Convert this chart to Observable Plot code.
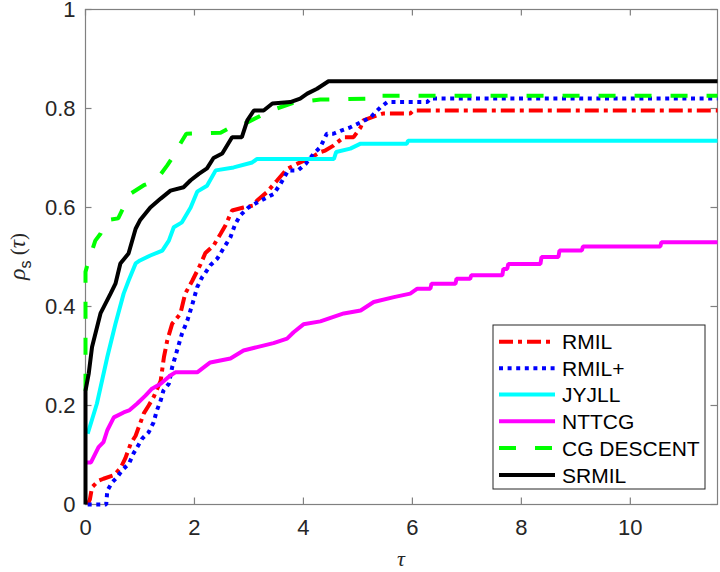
<!DOCTYPE html>
<html>
<head>
<meta charset="utf-8">
<script src="https://cdn.jsdelivr.net/npm/d3@7"></script>
<script src="https://cdn.jsdelivr.net/npm/@observablehq/plot@0.6"></script>
<style>
  html, body { margin: 0; padding: 0; background: #fff; }
  #chart { width: 720px; height: 572px; }
</style>
</head>
<body>
<div id="chart"></div>
<script>
// ---- Data ----
const seriesNames = ["RMIL", "RMIL+", "JYJLL", "NTTCG", "CG DESCENT", "SRMIL"];
const seriesColors = ["#ff0000", "#0000ff", "#00ffff", "#ff00ff", "#00ff00", "#000000"];
const seriesDashes = ["14,5,4,5", "4,4.6", null, null, "17,19", null];

const xTicks = [0, 2, 4, 6, 8, 10];
const yTicks = [0, 0.2, 0.4, 0.6, 0.8, 1];
const xMax = 11.6;

const rmilTau = [0.04, 0.08, 0.12, 0.24, 0.33, 0.52, 0.64, 0.73, 0.83, 0.92, 1.0, 1.07, 1.16, 1.25, 1.38, 1.44, 1.5, 1.59, 1.74, 1.83, 1.96, 2.11, 2.20, 2.35, 2.48, 2.57, 2.69, 2.90, 3.08, 3.15, 3.33, 3.52, 3.70, 3.88, 4.13, 4.31, 4.40, 4.55, 4.74, 4.92, 5.05, 5.1, 5.35, 5.47, 5.96, 6.02, 11.6];
const rmilRho = [0, 0.01, 0.035, 0.048, 0.052, 0.059, 0.073, 0.093, 0.123, 0.139, 0.163, 0.184, 0.2, 0.217, 0.25, 0.298, 0.331, 0.365, 0.385, 0.426, 0.452, 0.485, 0.508, 0.523, 0.547, 0.564, 0.594, 0.60, 0.604, 0.614, 0.631, 0.655, 0.678, 0.688, 0.70, 0.712, 0.715, 0.725, 0.742, 0.742, 0.762, 0.776, 0.786, 0.79, 0.79, 0.796, 0.796];

const rmilPlusTau = [0.04, 0.38, 0.40, 0.49, 0.58, 0.67, 0.80, 0.88, 0.95, 1.04, 1.16, 1.25, 1.31, 1.38, 1.43, 1.53, 1.59, 1.68, 1.77, 1.87, 1.96, 2.05, 2.14, 2.20, 2.29, 2.42, 2.53, 2.66, 2.75, 2.84, 2.99, 3.15, 3.45, 3.58, 3.72, 3.9, 4.04, 4.19, 4.31, 4.43, 4.55, 4.68, 4.86, 5.05, 5.23, 5.41, 5.54, 6.27, 6.33, 11.6];
const rmilPlusRho = [0, 0, 0.028, 0.045, 0.055, 0.069, 0.083, 0.103, 0.116, 0.133, 0.146, 0.166, 0.19, 0.21, 0.23, 0.244, 0.277, 0.311, 0.345, 0.372, 0.404, 0.439, 0.459, 0.468, 0.483, 0.497, 0.517, 0.54, 0.567, 0.584, 0.60, 0.61, 0.627, 0.648, 0.675, 0.675, 0.688, 0.709, 0.722, 0.749, 0.749, 0.755, 0.762, 0.772, 0.782, 0.802, 0.813, 0.813, 0.82, 0.82];

const jyjllTau = [0.04, 0.21, 0.40, 0.55, 0.70, 0.79, 0.92, 1.0, 1.19, 1.41, 1.53, 1.62, 1.77, 1.93, 2.05, 2.23, 2.39, 2.72, 3.06, 3.15, 4.56, 4.6, 4.86, 5.05, 5.9, 5.92, 11.6];
const jyjllRho = [0.143, 0.204, 0.298, 0.365, 0.426, 0.452, 0.487, 0.493, 0.503, 0.513, 0.533, 0.56, 0.57, 0.60, 0.632, 0.644, 0.675, 0.681, 0.691, 0.698, 0.698, 0.712, 0.719, 0.729, 0.729, 0.735, 0.735];

const nttcgTau = [0.02, 0.1, 0.24, 0.33, 0.40, 0.52, 0.70, 0.80, 0.95, 1.10, 1.22, 1.38, 1.55, 1.65, 2.05, 2.17, 2.29, 2.66, 2.90, 3.15, 3.45, 3.70, 3.82, 4.0, 4.31, 4.74, 5.05, 5.29, 5.66, 5.96, 6.09, 6.33, 6.35, 6.79, 6.81, 7.06, 7.08, 7.65, 7.67, 7.74, 7.76, 8.35, 8.37, 8.68, 8.70, 9.11, 9.13, 10.55, 10.57, 11.6];
const nttcgRho = [0.085, 0.085, 0.116, 0.126, 0.15, 0.176, 0.186, 0.19, 0.204, 0.22, 0.234, 0.244, 0.26, 0.267, 0.267, 0.277, 0.287, 0.295, 0.311, 0.318, 0.326, 0.335, 0.348, 0.364, 0.37, 0.386, 0.392, 0.409, 0.419, 0.426, 0.436, 0.436, 0.446, 0.446, 0.456, 0.456, 0.463, 0.463, 0.476, 0.476, 0.486, 0.486, 0.50, 0.50, 0.513, 0.513, 0.521, 0.521, 0.53, 0.53];

const cgTau = [0, 0, 0.05, 0.18, 0.275, 0.37, 0.6, 0.73, 0.83, 1.07, 1.3, 1.5, 1.59, 1.74, 1.85, 2.48, 2.72, 2.9, 3.3, 3.43, 3.8, 3.89, 4.31, 5.17, 5.2, 11.6];
const cgRho = [0.23, 0.47, 0.49, 0.533, 0.547, 0.574, 0.578, 0.608, 0.628, 0.645, 0.655, 0.685, 0.70, 0.729, 0.749, 0.751, 0.765, 0.768, 0.79, 0.797, 0.811, 0.813, 0.818, 0.82, 0.826, 0.826];

const srmilTau = [0, 0, 0.06, 0.12, 0.275, 0.46, 0.55, 0.64, 0.79, 0.92, 1.0, 1.19, 1.38, 1.56, 1.8, 1.93, 2.08, 2.23, 2.35, 2.51, 2.69, 2.87, 2.97, 3.09, 3.27, 3.43, 3.76, 3.94, 4.07, 4.25, 4.46, 11.6];
const srmilRho = [0, 0.23, 0.265, 0.318, 0.386, 0.426, 0.446, 0.487, 0.507, 0.557, 0.574, 0.60, 0.618, 0.634, 0.641, 0.655, 0.668, 0.679, 0.70, 0.709, 0.742, 0.742, 0.776, 0.796, 0.796, 0.81, 0.813, 0.82, 0.83, 0.84, 0.855, 0.855];

const allTau = [rmilTau, rmilPlusTau, jyjllTau, nttcgTau, cgTau, srmilTau];
const allRho = [rmilRho, rmilPlusRho, jyjllRho, nttcgRho, cgRho, srmilRho];

// ---- Build tables ----
const tables = seriesNames.map((name, i) =>
  allTau[i].map((t, j) => ({name, tau: t, rho: allRho[i][j]}))
);

const W = 720, H = 572;
const mL = 85, mR = 3, mT = 9, mB = 68;
const plotW = W - mL - mR, plotH = H - mT - mB;
const axisColor = "#808080";
const tickLen = 6.5;
const FS = 21;
const TFS = 22;

const lineMarks = tables.map((tab, i) => Plot.line(tab, {
  x: "tau", y: "rho",
  stroke: seriesColors[i],
  strokeWidth: 4,
  strokeDasharray: seriesDashes[i] || undefined,
  strokeLinecap: "butt",
  strokeLinejoin: "miter"
}));

const chart = Plot.plot({
  width: W, height: H,
  marginLeft: mL, marginRight: mR, marginTop: mT, marginBottom: mB,
  style: {fontFamily: "'Liberation Sans', Arial, Helvetica, sans-serif", fontSize: FS + "px", color: "#262626", background: "#fff", overflow: "visible"},
  x: {domain: [0, xMax]},
  y: {domain: [0, 1]},
  marks: [
    Plot.frame({stroke: axisColor, strokeWidth: 1.2}),
    Plot.ruleX(xTicks, {x: d => d, insetTop: plotH - tickLen, stroke: axisColor, strokeWidth: 1.2}),
    Plot.ruleX(xTicks, {x: d => d, insetBottom: plotH - tickLen, stroke: axisColor, strokeWidth: 1.2}),
    Plot.ruleY(yTicks, {y: d => d, insetRight: plotW - tickLen, stroke: axisColor, strokeWidth: 1.2}),
    Plot.ruleY(yTicks, {y: d => d, insetLeft: plotW - tickLen, stroke: axisColor, strokeWidth: 1.2}),
    Plot.axisX({ticks: xTicks, anchor: "bottom", tickSize: 0, tickPadding: 15, tickFormat: d => String(d), label: null, fill: "#262626", fontSize: TFS}),
    Plot.axisY({ticks: yTicks, anchor: "left", tickSize: 0, tickPadding: 10, tickFormat: d => String(d), label: null, fill: "#262626", fontSize: TFS}),
    ...lineMarks
  ]
});

document.getElementById("chart").appendChild(chart);

// ---- Axis titles & legend (annotation) ----
const svg = d3.select(chart);
svg.append("text")
  .attr("x", mL + plotW / 2).attr("y", 566)
  .attr("text-anchor", "middle")
  .attr("font-family", "'Liberation Serif', 'DejaVu Serif', serif")
  .attr("font-style", "italic")
  .attr("font-size", 22)
  .attr("fill", "#262626")
  .text("τ");

const yl = svg.append("text")
  .attr("transform", `translate(25, ${mT + plotH / 2}) rotate(-90)`)
  .attr("text-anchor", "middle")
  .attr("font-size", FS)
  .attr("fill", "#262626");
yl.append("tspan").attr("font-family", "'Liberation Serif', 'DejaVu Serif', serif").attr("font-style", "italic").attr("font-size", 24).text("ρ");
yl.append("tspan").attr("dy", 6).attr("font-size", 16).text("s");
yl.append("tspan").attr("dy", -6).attr("font-family", "'Liberation Serif', 'DejaVu Serif', serif").text(" (");
yl.append("tspan").attr("font-family", "'Liberation Serif', 'DejaVu Serif', serif").attr("font-style", "italic").attr("font-size", 23).text("τ");
yl.append("tspan").attr("font-family", "'Liberation Serif', 'DejaVu Serif', serif").text(")");

const lg = svg.append("g");
const lgX = 493, lgY = 325, lgW = 212, lgH = 164;
lg.append("rect").attr("x", lgX).attr("y", lgY).attr("width", lgW).attr("height", lgH)
  .attr("fill", "#fff").attr("stroke", "#262626").attr("stroke-width", 1);
const rowY = [341.7, 368.3, 394.6, 421.2, 448, 475];
seriesNames.forEach((name, i) => {
  lg.append("line")
    .attr("x1", 499).attr("x2", 555).attr("y1", rowY[i]).attr("y2", rowY[i])
    .attr("stroke", seriesColors[i]).attr("stroke-width", 4)
    .attr("stroke-dasharray", seriesDashes[i] || null);
  lg.append("text")
    .attr("x", 562).attr("y", rowY[i]).attr("dy", "0.36em")
    .attr("text-anchor", "start")
    .attr("font-size", FS).attr("fill", "#000")
    .text(name);
});
</script>
</body>
</html>
